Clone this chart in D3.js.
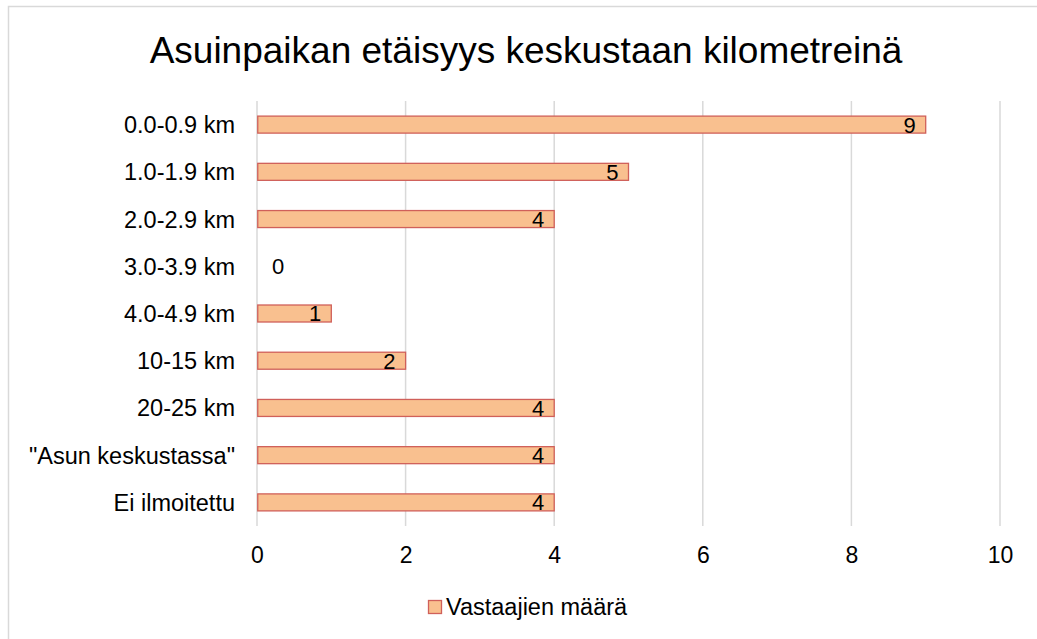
<!DOCTYPE html>
<html>
<head>
<meta charset="utf-8">
<script src="https://cdn.jsdelivr.net/npm/d3@7"></script>
<style>
  body { margin: 0; background: #fff; }
  text { font-family: "Liberation Sans", Arial, sans-serif; fill: #000; }
</style>
</head>
<body>
<div id="chart"></div>
<script>
// Chart data
var categories = ['0.0-0.9 km', '1.0-1.9 km', '2.0-2.9 km', '3.0-3.9 km', '4.0-4.9 km',
    '10-15 km', '20-25 km', '"Asun keskustassa"', 'Ei ilmoitettu'];
var counts = [9, 5, 4, 0, 1, 2, 4, 4, 4];
var xTicks = [0, 2, 4, 6, 8, 10];
var title = 'Asuinpaikan etäisyys keskustaan kilometreinä';
var seriesName = 'Vastaajien määrä';

var svgWidth = 1037;
var svgHeight = 639;
var margin = { top: 101, right: 37, bottom: 113, left: 257 };
var width = svgWidth - margin.left - margin.right;
var height = svgHeight - margin.top - margin.bottom;

var svg = d3.select('#chart')
    .append('svg')
    .attr('width', svgWidth)
    .attr('height', svgHeight);

// outer frame
svg.append('rect')
    .attr('x', 8.5)
    .attr('y', 6.5)
    .attr('width', 1040)
    .attr('height', 650)
    .attr('fill', 'none')
    .attr('stroke', '#d9d9d9')
    .attr('stroke-width', 1.5);

svg.append('text')
    .attr('x', 526)
    .attr('y', 63)
    .attr('text-anchor', 'middle')
    .style('font-size', '37px')
    .text(title);

var chartGroup = svg.append('g')
    .attr('transform', `translate(${margin.left}, ${margin.top})`);

var xScale = d3.scaleLinear()
    .domain([0, 10])
    .range([0, width]);

var yScale = d3.scaleBand()
    .domain(categories)
    .range([0, height])
    .paddingInner(0.64)
    .paddingOuter(0.32);

// gridlines
chartGroup.append('g').selectAll('line')
    .data(xTicks)
    .enter()
    .append('line')
    .attr('x1', d => xScale(d))
    .attr('x2', d => xScale(d))
    .attr('y1', 0)
    .attr('y2', height)
    .attr('stroke', '#d9d9d9')
    .attr('stroke-width', 1.5);

// x axis labels
var bottomAxis = d3.axisBottom(xScale).tickValues(xTicks).tickSize(0).tickPadding(21);
var xAxis = chartGroup.append('g')
    .attr('transform', `translate(0, ${height})`)
    .call(bottomAxis);
xAxis.select('.domain').remove();
xAxis.selectAll('text')
    .style('font-size', '23px')
    .attr('font-family', null);

// y axis labels
var leftAxis = d3.axisLeft(yScale).tickSize(0).tickPadding(22);
var yAxis = chartGroup.append('g').call(leftAxis);
yAxis.select('.domain').remove();
yAxis.selectAll('text')
    .style('font-size', '23.5px')
    .attr('font-family', null)
    .attr('dy', '0.36em');

// bars
chartGroup.append('g').selectAll('rect')
    .data(counts.map((v, i) => ({ cat: categories[i], value: v })).filter(d => d.value > 0))
    .enter()
    .append('rect')
    .attr('x', xScale(0) + 0.75)
    .attr('y', d => yScale(d.cat))
    .attr('width', d => xScale(d.value) - xScale(0) - 0.75)
    .attr('height', yScale.bandwidth())
    .attr('fill', '#f9c08f')
    .attr('stroke', '#d0605a')
    .attr('stroke-width', 1.3);

// value labels
chartGroup.append('g').selectAll('text')
    .data(counts.map((v, i) => ({ cat: categories[i], value: v })))
    .enter()
    .append('text')
    .attr('x', d => d.value > 0 ? xScale(d.value) - 10 : xScale(0) + 15)
    .attr('y', d => yScale(d.cat) + yScale.bandwidth() / 2)
    .attr('dy', '0.36em')
    .attr('text-anchor', d => d.value > 0 ? 'end' : 'start')
    .style('font-size', '22px')
    .text(d => d.value);

// legend
var legend = svg.append('g')
    .attr('transform', 'translate(428, 600)');
legend.append('rect')
    .attr('x', 0.5)
    .attr('y', 0.5)
    .attr('width', 13)
    .attr('height', 13)
    .attr('fill', '#f9c08f')
    .attr('stroke', '#d0605a')
    .attr('stroke-width', 1.3);
legend.append('text')
    .attr('x', 18)
    .attr('y', 7)
    .attr('dy', '0.36em')
    .style('font-size', '23.5px')
    .text(seriesName);
</script>
</body>
</html>
